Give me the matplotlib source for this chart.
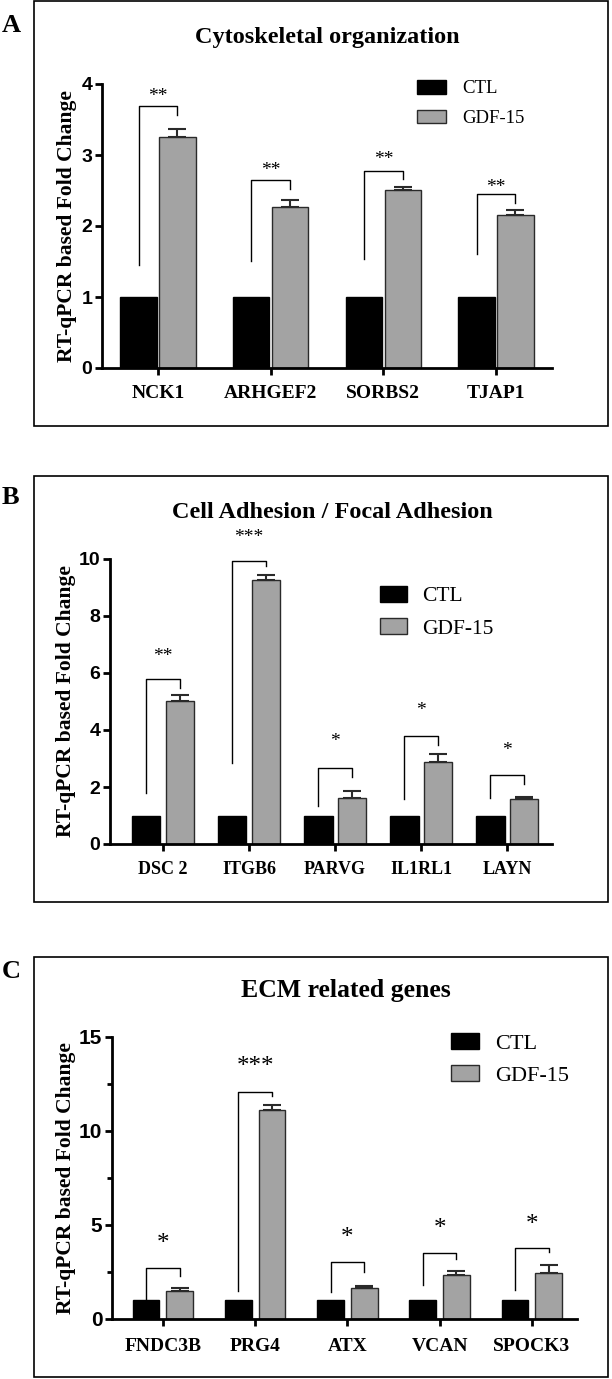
import numpy as np
import matplotlib
matplotlib.use('Agg')
import matplotlib.pyplot as plt
from matplotlib.patches import Rectangle

# Figure size in pixels (dpi 100)
W, H = 612, 1379

# ---- Panel A: Cytoskeletal organization
genes_a = ['NCK1', 'ARHGEF2', 'SORBS2', 'TJAP1']
ctl_a = [1.0, 1.0, 1.0, 1.0]
gdf_a = [3.26, 2.27, 2.51, 2.15]
gdf_err_a = [0.11, 0.10, 0.04, 0.08]
sig_a = ['**', '**', '**', '**']
brk_left_a = [1.45, 1.50, 1.53, 1.60]
brk_top_a = [3.69, 2.65, 2.77, 2.45]
brk_right_a = [3.56, 2.52, 2.66, 2.33]
star_y_a = [3.82, 2.78, 2.93, 2.54]

# ---- Panel B: Cell Adhesion / Focal Adhesion
genes_b = ['DSC 2', 'ITGB6', 'PARVG', 'IL1RL1', 'LAYN']
ctl_b = [1.0, 1.0, 1.0, 1.0, 1.0]
gdf_b = [5.03, 9.27, 1.63, 2.89, 1.58]
gdf_err_b = [0.19, 0.16, 0.22, 0.26, 0.07]
sig_b = ['**', '***', '*', '*', '*']
brk_left_b = [1.79, 2.84, 1.34, 1.57, 1.60]
brk_top_b = [5.78, 9.92, 2.67, 3.80, 2.42]
brk_right_b = [5.47, 9.77, 2.36, 3.47, 2.12]
star_y_b = [6.57, 10.77, 3.59, 4.70, 3.27]

# ---- Panel C: ECM related genes
genes_c = ['FNDC3B', 'PRG4', 'ATX', 'VCAN', 'SPOCK3']
ctl_c = [1.0, 1.0, 1.0, 1.0, 1.0]
gdf_c = [1.51, 11.12, 1.65, 2.34, 2.43]
gdf_err_c = [0.14, 0.28, 0.10, 0.21, 0.44]
sig_c = ['*', '***', '*', '*', '*']
brk_left_c = [1.06, 1.51, 1.42, 1.83, 1.54]
brk_top_c = [2.71, 12.06, 3.05, 3.51, 3.78]
brk_right_c = [2.30, 11.86, 2.52, 3.19, 3.58]
star_y_c = [3.99, 13.43, 4.30, 4.79, 5.01]

series_labels = ['CTL', 'GDF-15']

serif = ['Liberation Serif', 'DejaVu Serif']
sans = ['Liberation Sans Narrow', 'Liberation Sans', 'DejaVu Sans']
gray = '#a3a3a3'

fig = plt.figure(figsize=(W / 100, H / 100), dpi=100)


def add_px_axes(left, right, y0, ytop):
    return fig.add_axes([left / W, 1 - y0 / H, (right - left) / W, (y0 - ytop) / H])


def panel_box(x0, x1, y0, y1):
    fig.add_artist(Rectangle((x0 / W, 1 - y1 / H), (x1 - x0) / W, (y1 - y0) / H,
                             transform=fig.transFigure, fill=False,
                             edgecolor='black', linewidth=1.2))


def draw_panel(ax, genes, ctl, gdf, gdf_err, sig, brk_left, brk_top, brk_right,
               star_y, off, width, xlim, ymax, ystep, tick_fs, xlab_fs, star_fs,
               leg_fs, leg_anchor, handlelength, handletextpad, labelspacing,
               minor=None, xpad=7):
    x = np.arange(len(genes))
    b1 = ax.bar(x - off, ctl, width, color='black', edgecolor='black',
                linewidth=1, zorder=2, label=series_labels[0])
    b2 = ax.bar(x + off, gdf, width, color=gray, edgecolor='#2a2a2a',
                linewidth=1, zorder=2, label=series_labels[1])
    ax.errorbar(x + off, gdf, yerr=[np.zeros(len(gdf)), gdf_err], fmt='none',
                ecolor='#2a2a2a', elinewidth=1.5, capsize=6.5, capthick=1.5,
                zorder=3)
    for i in range(len(genes)):
        ax.plot([x[i] - off, x[i] - off, x[i] + off, x[i] + off],
                [brk_left[i], brk_top[i], brk_top[i], brk_right[i]],
                color='black', lw=1, clip_on=False, zorder=4)
        ax.text(x[i], star_y[i], sig[i], ha='center', va='center',
                fontsize=star_fs, family=serif, clip_on=False)
    ax.set_xlim(*xlim)
    ax.set_ylim(0, ymax)
    ax.set_xticks(x)
    ax.set_xticklabels(genes, family=serif, fontweight='bold', fontsize=xlab_fs)
    ax.set_yticks(np.arange(0, ymax + 0.1, ystep))
    ax.set_yticklabels([f'{v:g}' for v in np.arange(0, ymax + 0.1, ystep)],
                       family=sans, fontweight='bold', fontsize=tick_fs)
    if minor is not None:
        ax.set_yticks(np.arange(minor, ymax, ystep), minor=True)
        ax.tick_params(axis='y', which='minor', length=3.5, width=2)
    ax.tick_params(axis='y', which='major', length=5, width=2, pad=2)
    ax.tick_params(axis='x', length=5, width=2, pad=xpad)
    for s in ['top', 'right']:
        ax.spines[s].set_visible(False)
    for s in ['left', 'bottom']:
        ax.spines[s].set_linewidth(2)
    ax.set_ylabel('RT-qPCR based Fold Change', family=serif, fontweight='bold',
                  fontsize=15.5, va='center')
    leg = ax.legend(handles=[b1, b2], labels=series_labels, loc='upper left',
                    bbox_to_anchor=(leg_anchor[0] / W, 1 - leg_anchor[1] / H),
                    bbox_transform=fig.transFigure, frameon=False,
                    prop={'family': serif, 'size': leg_fs}, borderpad=0,
                    borderaxespad=0, handlelength=handlelength,
                    handleheight=0.75, handletextpad=handletextpad,
                    labelspacing=labelspacing)
    return ax


# Panel A
panel_box(34, 608, 1, 426)
fig.text(2 / W, 1 - 26 / H, 'A', family=serif, fontweight='bold', fontsize=19,
         ha='left', va='center')
fig.text(327 / W, 1 - 38 / H, 'Cytoskeletal organization', family=serif,
         fontweight='bold', fontsize=17.5, ha='center', va='center')
ax_a = add_px_axes(102, 552, 368, 84)
draw_panel(ax_a, genes_a, ctl_a, gdf_a, gdf_err_a, sig_a, brk_left_a, brk_top_a,
           brk_right_a, star_y_a, off=0.173, width=0.32, xlim=(-0.497, 3.497),
           ymax=4, ystep=1, tick_fs=14, xlab_fs=14, star_fs=14, leg_fs=13.5,
           leg_anchor=(417, 80), handlelength=1.55, handletextpad=0.85,
           labelspacing=0.65)
ax_a.yaxis.set_label_coords((67 - 102) / 450, 0.5)

# Panel B
panel_box(34, 608, 476, 902)
fig.text(2 / W, 1 - 497 / H, 'B', family=serif, fontweight='bold', fontsize=19,
         ha='left', va='center')
fig.text(332 / W, 1 - 513 / H, 'Cell Adhesion / Focal Adhesion', family=serif,
         fontweight='bold', fontsize=17.5, ha='center', va='center')
ax_b = add_px_axes(110, 552, 844, 559)
draw_panel(ax_b, genes_b, ctl_b, gdf_b, gdf_err_b, sig_b, brk_left_b, brk_top_b,
           brk_right_b, star_y_b, off=0.195, width=0.33, xlim=(-0.616, 4.52),
           ymax=10, ystep=2, tick_fs=14, xlab_fs=13, star_fs=14, leg_fs=15.5,
           leg_anchor=(380, 586), handlelength=1.26, handletextpad=0.7,
           labelspacing=0.55)
ax_b.yaxis.set_label_coords((66 - 110) / 442, 0.5)

# Panel C
panel_box(34, 608, 957, 1377)
fig.text(2 / W, 1 - 972 / H, 'C', family=serif, fontweight='bold', fontsize=19,
         ha='left', va='center')
fig.text(346 / W, 1 - 990 / H, 'ECM related genes', family=serif,
         fontweight='bold', fontsize=18.5, ha='center', va='center')
ax_c = add_px_axes(112, 577, 1319, 1037)
draw_panel(ax_c, genes_c, ctl_c, gdf_c, gdf_err_c, sig_c, brk_left_c, brk_top_c,
           brk_right_c, star_y_c, off=0.183, width=0.29, xlim=(-0.553, 4.49),
           ymax=15, ystep=5, tick_fs=15, xlab_fs=14, star_fs=18, leg_fs=16,
           leg_anchor=(451, 1033), handlelength=1.26, handletextpad=0.72,
           labelspacing=0.5, minor=2.5, xpad=9)
ax_c.yaxis.set_label_coords((66 - 112) / 465, 0.5)

fig.savefig('out.png', dpi=100)
